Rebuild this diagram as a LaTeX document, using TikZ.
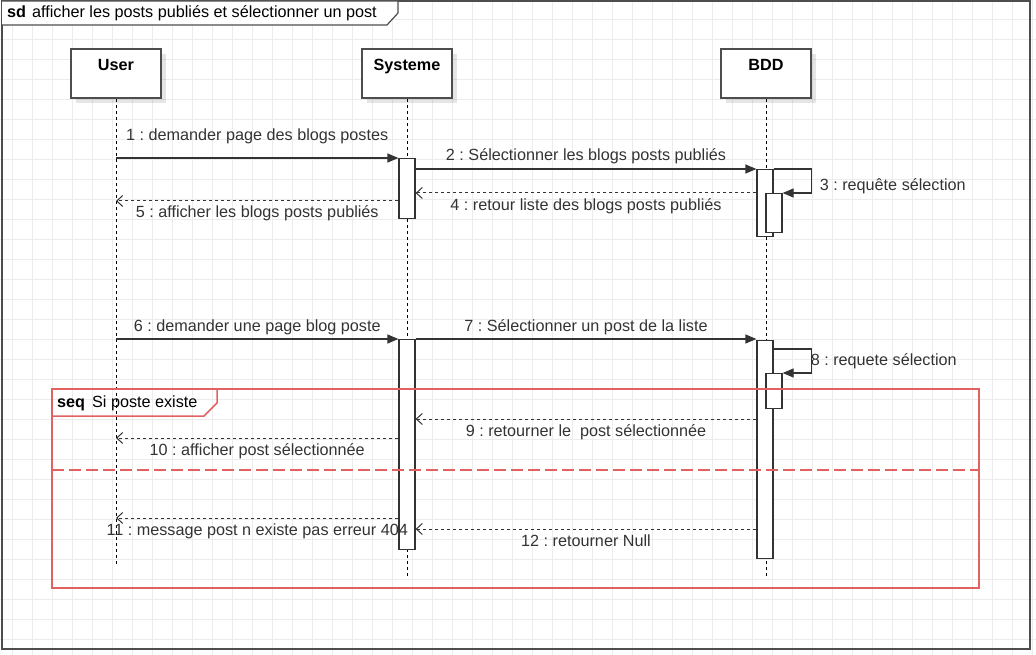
\documentclass[tikz,border=0pt]{standalone}
\usepackage{fontspec}
\setmainfont{Liberation Sans}
\frenchspacing
\usetikzlibrary{arrows.meta,positioning,calc,shadows}
\definecolor{umlline}{RGB}{51,51,51}
\definecolor{umlbox}{RGB}{77,77,77}
\definecolor{umlgrid}{RGB}{236,236,236}
\definecolor{umlred}{RGB}{226,98,98}
\newcommand{\umlfont}{\fontsize{16.2}{19}\selectfont}
\tikzset{
  gridl/.style={umlgrid, line width=0.8pt},
  head/.style={draw=umlbox, line width=1.6pt, fill=white, minimum width=90pt, minimum height=49pt,
      inner sep=0pt, drop shadow={shadow xshift=5pt, shadow yshift=-5pt, fill=black, opacity=0.1}},
  htxt/.style={font=\umlfont\bfseries, anchor=base},
  life/.style={black, line width=1pt, dash pattern=on 3pt off 3pt},
  act/.style={draw=umlline, line width=1.2pt, fill=white, minimum width=16pt, inner sep=0pt, anchor=north},
  call/.style={-{Triangle[length=11pt,width=9pt]}, umlline, line width=1.2pt},
  ret/.style={-{Straight Barb[length=6pt,width=11pt,line width=1pt]}, umlline, line width=1pt,
      dash pattern=on 3pt off 3pt},
  mtxt/.style={midway, anchor=base, text=umlline, inner sep=0pt},
  stxt/.style={anchor=base west, text=umlline, inner sep=0pt},
  fragred/.style={draw=umlred, line width=1.5pt},
}

\begin{document}
\begin{tikzpicture}[x=1pt, y=-1pt, font=\umlfont]
  \useasboundingbox (0,0) rectangle (1036,655);
  % background grid
  \foreach \gx in {12,32,...,1032} \draw[gridl] (\gx,0) -- (\gx,655);
  \foreach \gy in {19,39,...,639} \draw[gridl] (0,\gy) -- (1036,\gy);

  % frame sd
  \draw[umlbox, line width=2pt] (2,1) rectangle (1030,649);
  \draw[umlbox, line width=1.2pt, fill=white] (2,1) -- (398,1) -- (398,13) -- (387,25) -- (2,25);
  \node[anchor=base west, inner sep=0pt] (sdlbl) at (7,17.5) {\textbf{sd}\hspace{6pt}afficher les posts publiés et sélectionner un post};

  % lifelines
  \node[head] (user) at (116,73.5) {};
  \node[head] (sys) at (407,73.5) {};
  \node[head] (bdd) at (766,73.5) {};
  \node[htxt] (userlbl) at (116,70.5) {User};
  \node[htxt] (syslbl) at (407,70.5) {Systeme};
  \node[htxt] (bddlbl) at (766,70.5) {BDD};
  \coordinate (userend) at (116,566);
  \coordinate (sysend) at (407,576);
  \coordinate (bddend) at (766,576);
  \draw[life] (user.south) -- (userend);
  \draw[life] (sys.south) -- (sysend);
  \draw[life] (bdd.south) -- (bddend);

  % activations
  \node[act, minimum height=60pt] (sysA) at (407,158) {};
  \node[act, minimum height=67pt] (bddA) at (765,169) {};
  \node[act, minimum height=39pt] (bddB) at (774,193) {};
  \node[act, minimum height=210pt] (sysC) at (407,339) {};
  \node[act, minimum height=218pt] (bddC) at (765,340) {};
  \node[act, minimum height=35pt] (bddD) at (774,373) {};

  % first request
  \draw[call] (user.south |- sysA.north) -- (sysA.north west)
    node[mtxt, yshift=17pt] {1 : demander page des blogs postes};
  \draw[call] (sysA.east |- bddA.north) -- (bddA.north west)
    node[mtxt, yshift=8pt] {2 : Sélectionner les blogs posts publiés};
  \draw[call] (bddA.north east) -- ++(38,0) |- (bddB.north east);
  \node[stxt] (m3) at ($(bddA.north east)+(46,22)$) {3 : requête sélection};
  \draw[ret] (bddA.west |- bddB.north) -- (sysA.east |- bddB.north)
    node[mtxt, yshift=-18pt] {4 : retour liste des blogs posts publiés};
  \draw[ret] (sysA.west |- 0,201) -- (user.south |- 0,201)
    node[mtxt, yshift=-17pt] {5 : afficher les blogs posts publiés};

  % second request
  \draw[call] (user.south |- sysC.north) -- (sysC.north west)
    node[mtxt, yshift=8pt] {6 : demander une page blog poste};
  \draw[call] (sysC.north east) -- (bddC.west |- sysC.north)
    node[mtxt, yshift=8pt] {7 : Sélectionner un post de la liste};
  \draw[call] ($(bddC.north east)+(0,9)$) -- ++(38,0) |- (bddD.north east);
  \node[stxt] (m8) at ($(bddC.north east)+(37,25)$) {8 : requete sélection};
  \draw[ret] (bddC.west |- 0,419) -- (sysC.east |- 0,419)
    node[mtxt, yshift=-17pt] {9 : retourner le~ post sélectionnée};
  \draw[ret] (sysC.west |- 0,438) -- (user.south |- 0,438)
    node[mtxt, yshift=-17pt] {10 : afficher post sélectionnée};
  \draw[ret] (sysC.west |- 0,518) -- (user.south |- 0,518)
    node[mtxt, yshift=-17pt] {11 : message post n existe pas erreur 404};
  \draw[ret] (bddC.west |- 0,529) -- (sysC.east |- 0,529)
    node[mtxt, yshift=-17pt] {12 : retourner Null};

  % fragment seq
  \draw[fragred] (52,389) rectangle (979,588);
  \draw[fragred] (52,389) -- (217,389) -- (217,403) -- (204,416) -- (52,416);
  \draw[fragred, dash pattern=on 12pt off 5pt] (52,470) -- (979,470);
  \node[anchor=base west, inner sep=0pt] (seqlbl) at (57,407) {\textbf{seq}\hspace{7pt}Si poste existe};
\end{tikzpicture}
\end{document}
